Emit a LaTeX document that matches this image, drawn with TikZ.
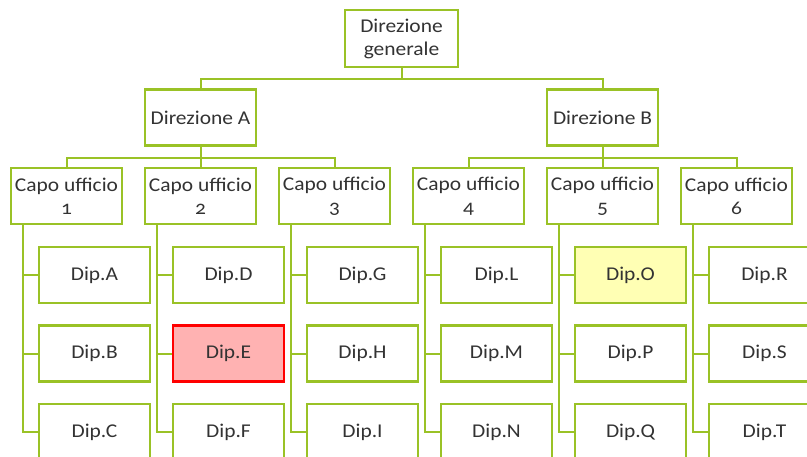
\documentclass[tikz,border=0pt]{standalone}
\usepackage{fontspec}
\setmainfont{Carlito}[Numbers=OldStyle,FakeStretch=1.1]
\usetikzlibrary{calc,backgrounds}
\definecolor{lgreen}{RGB}{154,194,38}
\definecolor{txt}{RGB}{51,51,51}
\definecolor{redfill}{RGB}{255,178,178}
\definecolor{yelfill}{RGB}{255,255,180}
\begin{document}
\begin{tikzpicture}[x=1pt,y=-1pt,
  box/.style={draw=lgreen,line width=2.4pt,fill=white,minimum width=111pt,minimum height=56pt,
    inner sep=1pt,align=center,text=txt,font=\fontsize{19.5pt}{23pt}\selectfont},
  hlE/.style={draw=red,fill=redfill},
  hlO/.style={fill=yelfill},
  conn/.style={draw=lgreen,line width=2pt}]
\useasboundingbox (0,0) rectangle (807,456);
\clip (0,0) rectangle (807,456);
\node[box,minimum width=113pt,minimum height=57pt] (top) at (401.5,38.5) {Direzione\\generale};
\node[box] (dirA) at (200.5,117.5) {Direzione A};
\node[box] (dirB) at (602.5,117.5) {Direzione B};
\foreach \i/\n in {1/0,2/1,3/2,4/3,5/4,6/5}{
  \pgfmathsetmacro{\L}{11+134*\n}
  \node[box] (c\i) at (\L+55.5,196) {Capo ufficio\\\i};
  \coordinate (v\i) at (\L+12,224);
}
\foreach \i/\n/\a/\b/\c in {1/0/A/B/C,2/1/D/E/F,3/2/G/H/I,4/3/L/M/N,5/4/O/P/Q,6/5/R/S/T}{
  \pgfmathsetmacro{\L}{11+134*\n}
  \node[box,hl\a/.try] (p\a) at (\L+83.5,275) {Dip.\a};
  \node[box,hl\b/.try] (p\b) at (\L+83.5,353.5) {Dip.\b};
  \node[box,hl\c/.try] (p\c) at (\L+83.5,432) {Dip.\c};
  \begin{scope}[on background layer]
  \draw[conn] (v\i) |- (p\c.west);
  \draw[conn] (v\i |- p\a.west) -- (p\a.west);
  \draw[conn] (v\i |- p\b.west) -- (p\b.west);
  \end{scope}
}
\begin{scope}[on background layer]
\draw[conn] (top.south) -- ++(0,11) -| (dirA.north);
\draw[conn] (top.south) -- ++(0,11) -| (dirB.north);
\foreach \p/\k in {dirA/c1,dirA/c2,dirA/c3,dirB/c4,dirB/c5,dirB/c6}{
  \draw[conn] (\p.south) -- ++(0,11) -| (\k.north);
}
\end{scope}
\end{tikzpicture}
\end{document}
